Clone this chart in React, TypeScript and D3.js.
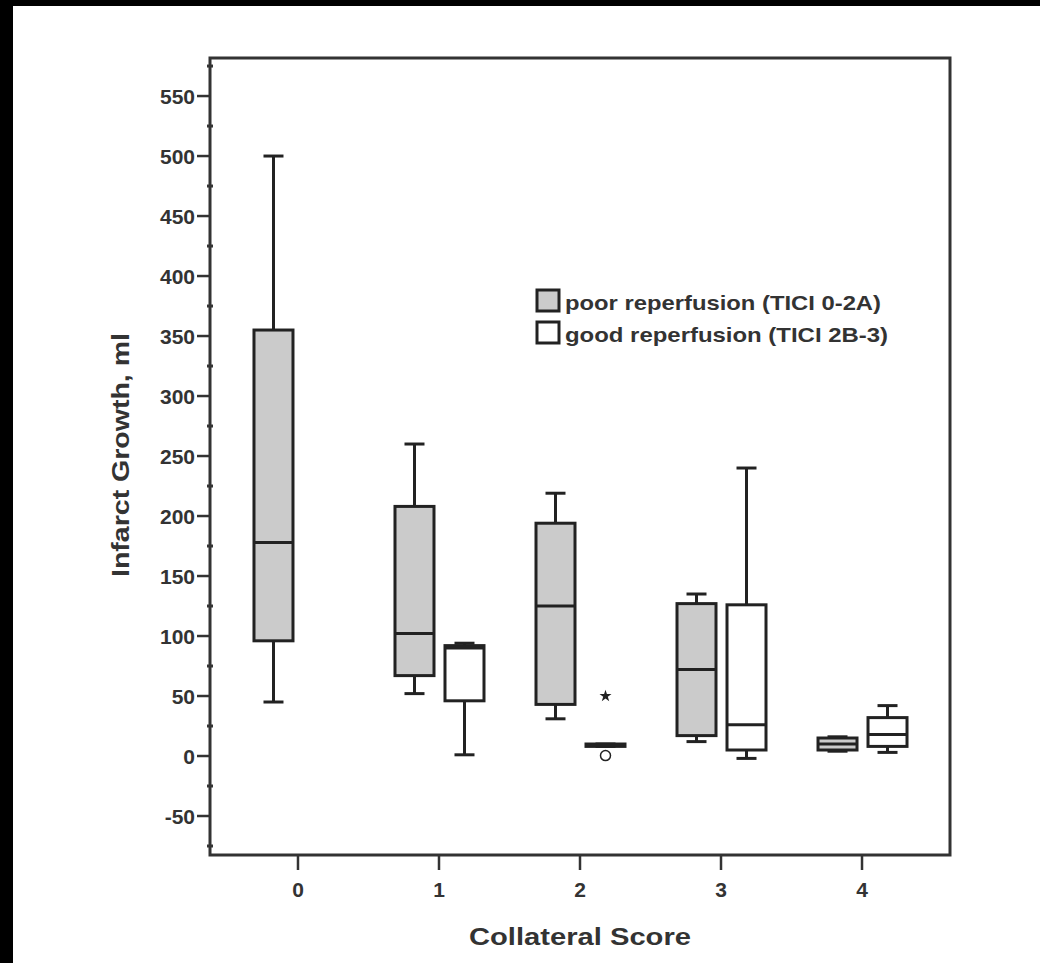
import React from 'react'
import * as d3 from 'd3'

const categories = ['0', '1', '2', '3', '4']
const seriesNames = ['poor reperfusion (TICI 0-2A)', 'good reperfusion (TICI 2B-3)']
const seriesFills = ['#cbcbcb', '#ffffff']

// poor reperfusion boxes
const poorLow = [45, 52, 31, 12, 4]
const poorQ1 = [96, 67, 43, 17, 5]
const poorMedian = [178, 102, 125, 72, 10]
const poorQ3 = [355, 208, 194, 127, 15]
const poorHigh = [500, 260, 219, 135, 16]

// good reperfusion boxes (no group for score 0)
const goodLow = [null, 1, 8, -2, 3]
const goodQ1 = [null, 46, 8, 5, 8]
const goodMedian = [null, 90, 9, 26, 18]
const goodQ3 = [null, 92, 10, 126, 32]
const goodHigh = [null, 94, 10, 240, 42]

// outliers of the good reperfusion group, score 2
const outlierCategory = ['2', '2']
const outlierValue = [50, 2]
const outlierKind = ['star', 'circle']

const yTicks = [-50, 0, 50, 100, 150, 200, 250, 300, 350, 400, 450, 500, 550]

const FONT = '"Liberation Sans", Arial, sans-serif'
const INK = '#222'

const App = () => {
    const svgRef = React.useRef<SVGSVGElement>(null)

    React.useEffect(() => {
        document.body.style.margin = '0'
        document.body.style.overflow = 'hidden'

        const svg = d3.select(svgRef.current)
        svg.selectAll('*').remove()

        const width = 1040
        const height = 963
        const frame = { left: 210, right: 950, top: 58, bottom: 855 }

        svg.append('rect').attr('width', width).attr('height', height).attr('fill', '#000')
        svg.append('rect').attr('x', 13).attr('y', 6).attr('width', width).attr('height', height).attr('fill', '#fff')

        const xScale = d3.scalePoint().domain(categories).range([frame.left, frame.right]).padding(0.624)
        const subScale = d3.scaleBand().domain(seriesNames).range([-49.5, 50.5]).paddingInner(0.22).paddingOuter(0.11)
        const yScale = d3.scaleLinear().domain([-82.5, 581.7]).range([frame.bottom, frame.top])

        const boxes: any[] = []
        categories.forEach((c, i) => {
            boxes.push({ cat: c, s: 0, low: poorLow[i], q1: poorQ1[i], med: poorMedian[i], q3: poorQ3[i], high: poorHigh[i] })
            if (goodMedian[i] != null) {
                boxes.push({ cat: c, s: 1, low: goodLow[i], q1: goodQ1[i], med: goodMedian[i], q3: goodQ3[i], high: goodHigh[i] })
            }
        })

        const bw = subScale.bandwidth()
        const cx = (d: any) => (xScale(d.cat) as number) + (subScale(seriesNames[d.s]) as number) + bw / 2

        const g = svg.append('g').attr('stroke', INK).attr('stroke-width', 3)

        const box = g.selectAll('.box').data(boxes).enter().append('g').attr('class', 'box')

        // whiskers
        box.append('line')
            .attr('x1', cx).attr('x2', cx)
            .attr('y1', (d) => yScale(d.high)).attr('y2', (d) => yScale(d.q3))
        box.append('line')
            .attr('x1', cx).attr('x2', cx)
            .attr('y1', (d) => yScale(d.q1)).attr('y2', (d) => yScale(d.low))
        box.append('line')
            .attr('x1', (d) => cx(d) - 10).attr('x2', (d) => cx(d) + 10)
            .attr('y1', (d) => yScale(d.high)).attr('y2', (d) => yScale(d.high))
        box.append('line')
            .attr('x1', (d) => cx(d) - 10).attr('x2', (d) => cx(d) + 10)
            .attr('y1', (d) => yScale(d.low)).attr('y2', (d) => yScale(d.low))

        box.append('rect')
            .attr('x', (d) => cx(d) - bw / 2)
            .attr('width', bw)
            .attr('y', (d) => yScale(d.q3))
            .attr('height', (d) => yScale(d.q1) - yScale(d.q3))
            .attr('fill', (d) => seriesFills[d.s])
        box.append('line')
            .attr('x1', (d) => cx(d) - bw / 2).attr('x2', (d) => cx(d) + bw / 2)
            .attr('y1', (d) => yScale(d.med)).attr('y2', (d) => yScale(d.med))

        // outliers
        outlierCategory.forEach((c, i) => {
            const x = (xScale(c) as number) + (subScale(seriesNames[1]) as number) + bw / 2
            const y = yScale(outlierValue[i])
            if (outlierKind[i] === 'star') {
                svg.append('path')
                    .attr('transform', `translate(${x},${y})`)
                    .attr('d', d3.symbol().type(d3.symbolStar).size(45)())
                    .attr('fill', INK)
            } else {
                svg.insert('circle', 'g')
                    .attr('cx', x).attr('cy', y + 2).attr('r', 5)
                    .attr('fill', '#fff').attr('stroke', INK).attr('stroke-width', 1.5)
            }
        })

        // frame
        svg.append('rect')
            .attr('x', frame.left).attr('y', frame.top)
            .attr('width', frame.right - frame.left).attr('height', frame.bottom - frame.top)
            .attr('fill', 'none').attr('stroke', '#333').attr('stroke-width', 3)

        // y axis ticks
        const minor = d3.range(-75, 580, 25).filter((v) => v % 50 !== 0)
        svg.selectAll('.minor').data(minor).enter().append('line')
            .attr('x1', frame.left - 3).attr('x2', frame.left + 3)
            .attr('y1', (d) => yScale(d)).attr('y2', (d) => yScale(d))
            .attr('stroke', '#333').attr('stroke-width', 3)

        const yLabels = svg.selectAll('.y-label').data(yTicks).enter().append('g').attr('class', 'y-label')
        yLabels.append('line')
            .attr('x1', frame.left - 13).attr('x2', frame.left)
            .attr('y1', (d) => yScale(d)).attr('y2', (d) => yScale(d))
            .attr('stroke', '#333').attr('stroke-width', 2.5)
        yLabels.append('text')
            .attr('x', frame.left - 15)
            .attr('y', (d) => yScale(d))
            .attr('dy', '0.36em')
            .attr('text-anchor', 'end')
            .attr('font-family', FONT).attr('font-weight', 'bold').attr('font-size', 21)
            .attr('fill', '#333')
            .text((d) => d)

        // x axis ticks
        const xLabels = svg.selectAll('.x-label').data(categories).enter().append('g').attr('class', 'x-label')
        xLabels.append('line')
            .attr('x1', (d) => xScale(d) as number).attr('x2', (d) => xScale(d) as number)
            .attr('y1', frame.bottom).attr('y2', frame.bottom + 15)
            .attr('stroke', '#333').attr('stroke-width', 2.5)
        xLabels.append('text')
            .attr('x', (d) => xScale(d) as number)
            .attr('y', 897)
            .attr('text-anchor', 'middle')
            .attr('font-family', FONT).attr('font-weight', 'bold').attr('font-size', 21)
            .attr('fill', '#333')
            .text((d) => d)

        // axis titles
        svg.append('text')
            .attr('x', 580).attr('y', 945)
            .attr('text-anchor', 'middle')
            .attr('font-family', FONT).attr('font-weight', 'bold').attr('font-size', 24)
            .attr('textLength', 222).attr('lengthAdjust', 'spacingAndGlyphs')
            .attr('fill', '#333')
            .text('Collateral Score')
        svg.append('text')
            .attr('transform', 'translate(129,455) rotate(-90)')
            .attr('text-anchor', 'middle')
            .attr('font-family', FONT).attr('font-weight', 'bold').attr('font-size', 23)
            .attr('textLength', 244).attr('lengthAdjust', 'spacingAndGlyphs')
            .attr('fill', '#333')
            .text('Infarct Growth, ml')

        // legend
        const legend = svg.selectAll('.legend').data(seriesNames).enter().append('g')
            .attr('class', 'legend')
            .attr('transform', (d, i) => `translate(537,${290 + i * 32})`)
        legend.append('rect')
            .attr('width', 22).attr('height', 21)
            .attr('fill', (d, i) => seriesFills[i])
            .attr('stroke', INK).attr('stroke-width', 3)
        legend.append('text')
            .attr('x', 28).attr('y', 20)
            .attr('font-family', FONT).attr('font-weight', 'bold').attr('font-size', 21)
            .attr('textLength', (d, i) => (i === 0 ? 316 : 323)).attr('lengthAdjust', 'spacingAndGlyphs')
            .attr('fill', '#333')
            .text((d) => d)
    }, [])

    return (
        <div style={{ position: 'absolute', left: 0, top: 0, width: 1040, height: 963, overflow: 'hidden' }}>
            <svg ref={svgRef} width={1040} height={963} style={{ display: 'block' }}></svg>
        </div>
    )
}

export default App
